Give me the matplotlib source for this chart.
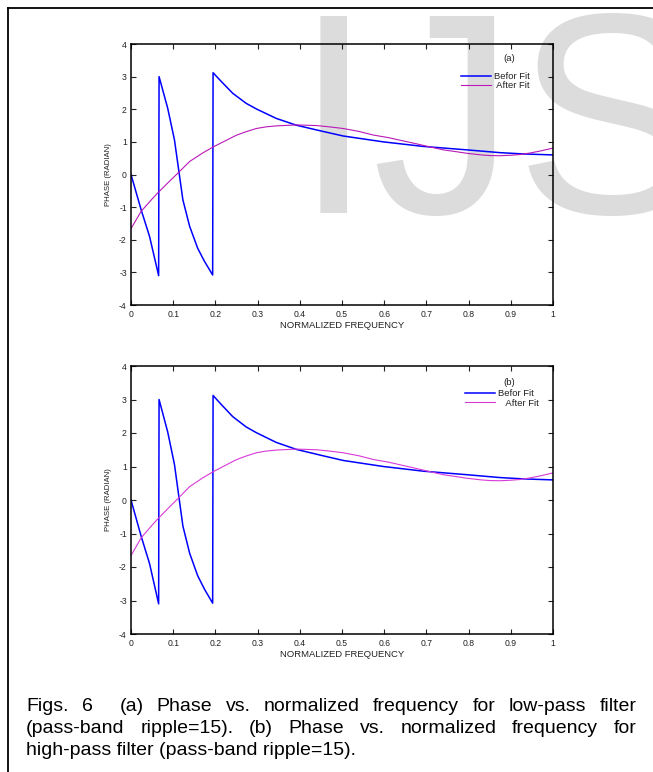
import numpy as np
import matplotlib.pyplot as plt
from matplotlib.lines import Line2D

plt.rcParams['font.family'] = ['Liberation Sans', 'DejaVu Sans']
plt.rcParams['axes.unicode_minus'] = False

# phase before fitting (wrapped to +/- pi)
freq_before = [0, 0.024, 0.044, 0.0655, 0.0665, 0.087, 0.103, 0.113, 0.123, 0.139,
               0.158, 0.174, 0.1935, 0.1945, 0.214, 0.241, 0.273, 0.297, 0.344, 0.392,
               0.455, 0.503, 0.598, 0.693, 0.796, 0.874, 0.93, 1.0]
phase_before = [0, -1.08, -1.9, -3.1, 3.0, 2.03, 1.06, 0.14, -0.78, -1.59,
                -2.26, -2.66, -3.08, 3.12, 2.85, 2.49, 2.18, 2.01, 1.72, 1.51,
                1.32, 1.18, 1.0, 0.86, 0.755, 0.67, 0.63, 0.60]

# phase after fitting
freq_after = [0, 0.024, 0.05, 0.063, 0.091, 0.111, 0.139, 0.17, 0.194, 0.22,
              0.249, 0.27, 0.297, 0.32, 0.344, 0.392, 0.44, 0.47, 0.503, 0.54,
              0.574, 0.61, 0.645, 0.68, 0.70, 0.74, 0.77, 0.796, 0.83, 0.851,
              0.874, 0.899, 0.92, 0.946, 0.97, 1.0]
phase_after = [-1.66, -1.13, -0.75, -0.57, -0.21, 0.04, 0.40, 0.66, 0.84, 1.01,
               1.20, 1.30, 1.41, 1.46, 1.49, 1.52, 1.50, 1.46, 1.41, 1.32,
               1.21, 1.13, 1.03, 0.93, 0.87, 0.755, 0.70, 0.65, 0.60, 0.58,
               0.575, 0.59, 0.61, 0.66, 0.72, 0.81]

panel_tags = ['(a)', '(b)']
legend_labels = [['Befor Fit', ' After Fit'], ['Befor Fit', '   After Fit']]
fit_colors = ['#b818b8', '#d83ad8']
x_ticks = [0, 0.1, 0.2, 0.3, 0.4, 0.5, 0.6, 0.7, 0.8, 0.9, 1.0]
x_tick_labels = ['0', '0.1', '0.2', '0.3', '0.4', '0.5', '0.6', '0.7', '0.8', '0.9', '1']
y_ticks = [-4, -3, -2, -1, 0, 1, 2, 3, 4]

caption_lines = [
    "Figs. 6  (a) Phase vs. normalized frequency for low-pass filter",
    "(pass-band ripple=15). (b) Phase vs. normalized frequency for",
    "high-pass filter (pass-band ripple=15).",
]

W, H = 653, 772
fig = plt.figure(figsize=(W / 100, H / 100), dpi=100)

# light grey watermark behind everything
fig.text(294 / W, 1 - 213 / H, 'IJS', fontsize=206, color='#dcdcdc',
         ha='left', va='baseline', zorder=-5)

# page frame: left and top rules
fig.add_artist(Line2D([7.5 / W, 7.5 / W], [0, 1 - 8 / H], color='black', lw=1.3,
                      transform=fig.transFigure))
fig.add_artist(Line2D([7.5 / W, 1], [1 - 8 / H, 1 - 8 / H], color='black', lw=1.3,
                      transform=fig.transFigure))

# axes boxes in pixels: left, top, right, bottom
axes_boxes = [(131, 44, 553, 305), (131, 366, 553, 634)]
legend_anchor = [(0.782, 0.893), (0.791, 0.914)]
tag_pos = [(0.896, 0.946), (0.896, 0.937)]

for i, (l, t, r, b) in enumerate(axes_boxes):
    ax = fig.add_axes([l / W, 1 - b / H, (r - l) / W, (b - t) / H])
    ax.set_facecolor('none')
    ax.plot(freq_before, phase_before, color='#0000ff', lw=1.1, label=legend_labels[i][0])
    ax.plot(freq_after, phase_after, color=fit_colors[i], lw=0.8, label=legend_labels[i][1])
    ax.set_xlim(0, 1)
    ax.set_ylim(-4, 4)
    ax.set_xticks(x_ticks)
    ax.set_xticklabels(x_tick_labels)
    ax.set_yticks(y_ticks)
    ax.tick_params(direction='in', top=True, right=True, length=3.5, width=0.8,
                   labelsize=6.2, colors='#222222')
    ax.tick_params(axis='x', pad=3.5)
    ax.tick_params(axis='y', pad=3)
    for s in ax.spines.values():
        s.set_linewidth(1.1)
    ax.set_xlabel('NORMALIZED FREQUENCY', fontsize=6.8, labelpad=1.5, color='#222222')
    ax.set_ylabel('PHASE (RADIAN)', fontsize=5.6, labelpad=5, color='#222222')
    ax.text(tag_pos[i][0], tag_pos[i][1], panel_tags[i], transform=ax.transAxes,
            fontsize=6.8, ha='center', va='center', color='#222222')
    ax.legend(loc='upper left', bbox_to_anchor=legend_anchor[i], frameon=False,
              fontsize=6.8, handlelength=3.2, handletextpad=0.3, labelspacing=0.05,
              borderpad=0, borderaxespad=0, labelcolor='#222222')

# justified caption under the panels
fig.canvas.draw()
renderer = fig.canvas.get_renderer()
left_px, right_px = 26, 636.5
baselines = [711, 733, 755]
cap_size = 14
for k, line in enumerate(caption_lines):
    y = 1 - baselines[k] / H
    if k == len(caption_lines) - 1:
        fig.text(left_px / W, y, line, fontsize=cap_size, va='baseline', ha='left')
        continue
    words = line.split(' ')
    items = []
    for w in words:
        if w == '':
            items.append((None, 0.0))
            continue
        txt = fig.text(0, y, w, fontsize=cap_size, va='baseline', ha='left')
        items.append((txt, txt.get_window_extent(renderer).width))
    gap = (right_px - left_px - sum(wd for _, wd in items)) / (len(items) - 1)
    x = left_px
    for txt, wd in items:
        if txt is not None:
            txt.set_x(x / W)
        x += wd + gap

fig.savefig('out.png', dpi=100)
